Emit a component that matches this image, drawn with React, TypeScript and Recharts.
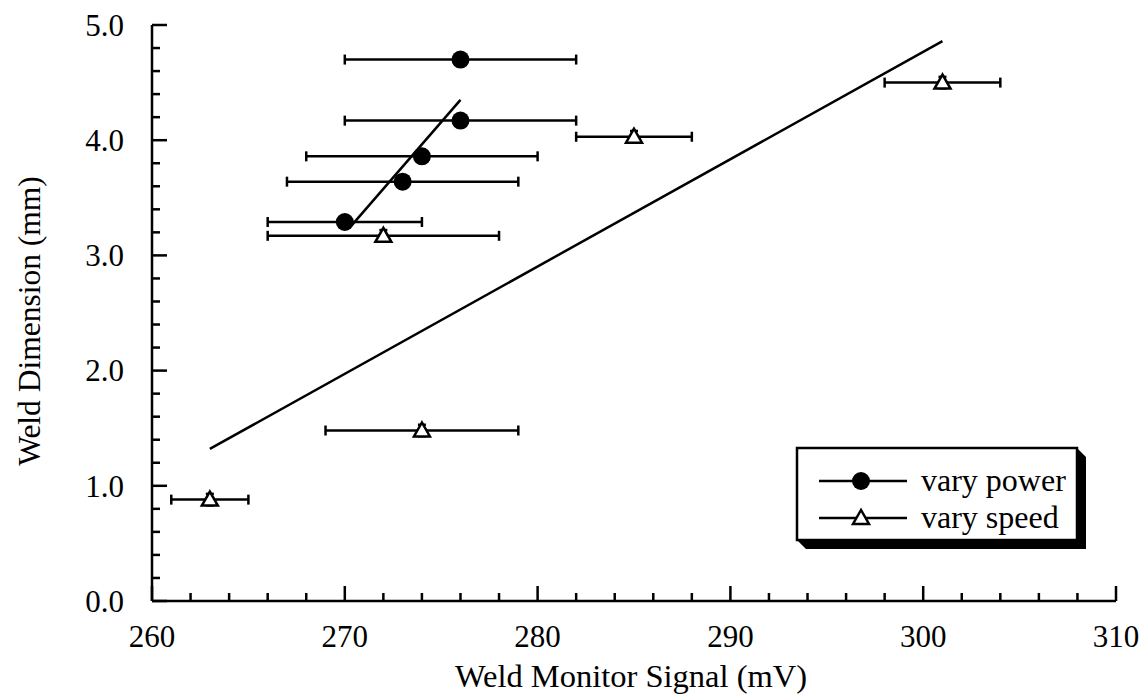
import React from 'react';
import { ScatterChart, Scatter, XAxis, YAxis, ErrorBar } from 'recharts';

// vary power (filled circles)
const powerX = [276, 276, 274, 273, 270];
const powerY = [4.7, 4.17, 3.86, 3.64, 3.29];
const powerXErr = [6, 6, 6, 6, 4];

// vary speed (open triangles)
const speedX = [263, 274, 272, 285, 301];
const speedY = [0.88, 1.48, 3.17, 4.03, 4.5];
const speedXErr = [2, 5, 6, 3, 3];
const speedYErr = [0.05, 0.05, 0.05, 0.05, 0.05];

// fitted lines
const powerFitX = [270.3, 276.0];
const powerFitY = [3.25, 4.35];
const speedFitX = [263.0, 301.0];
const speedFitY = [1.32, 4.86];

const xTicks = [260, 262, 264, 266, 268, 270, 272, 274, 276, 278, 280, 282, 284, 286, 288, 290, 292, 294, 296, 298, 300, 302, 304, 306, 308, 310];
const yTicks = [0, 0.2, 0.4, 0.6, 0.8, 1, 1.2, 1.4, 1.6, 1.8, 2, 2.2, 2.4, 2.6, 2.8, 3, 3.2, 3.4, 3.6, 3.8, 4, 4.2, 4.4, 4.6, 4.8, 5];

const powerData = powerX.map((x, i) => ({ x, y: powerY[i], xErr: powerXErr[i] }));
const speedData = speedX.map((x, i) => ({ x, y: speedY[i], xErr: speedXErr[i], yErr: speedYErr[i] }));
const powerFit = powerFitX.map((x, i) => ({ x, y: powerFitY[i] }));
const speedFit = speedFitX.map((x, i) => ({ x, y: speedFitY[i] }));

const FONT = '"Liberation Serif", "Times New Roman", serif';
const SW = 2.5;

const XTick = (props: any) => {
  const { x, y, payload } = props;
  const major = payload.value % 10 === 0;
  return (
    <g>
      <line x1={x} y1={y} x2={x} y2={y - (major ? 15 : 8)} stroke="#000" strokeWidth={SW} />
      {major && (
        <text x={x} y={y + 46} textAnchor="middle" fontFamily={FONT} fontSize={31} fill="#000">
          {payload.value}
        </text>
      )}
    </g>
  );
};

const YTick = (props: any) => {
  const { x, y, payload } = props;
  const v = payload.value;
  const major = Math.abs(v - Math.round(v)) < 1e-6;
  return (
    <g>
      <line x1={x} y1={y} x2={x + (major ? 15 : 8)} y2={y} stroke="#000" strokeWidth={SW} />
      {major && (
        <text x={x - 28} y={y} dy="0.35em" textAnchor="end" fontFamily={FONT} fontSize={31} fill="#000">
          {v.toFixed(1)}
        </text>
      )}
    </g>
  );
};

const Dot = (props: any) => <circle cx={props.cx} cy={props.cy} r={9} fill="#000" />;

const Tri = (props: any) => {
  const { cx, cy } = props;
  return (
    <polygon
      points={`${cx},${cy - 8} ${cx - 8},${cy + 6} ${cx + 8},${cy + 6}`}
      fill="#fff"
      stroke="#000"
      strokeWidth={SW}
      strokeLinejoin="miter"
    />
  );
};

const NoShape = () => <g />;

const Legend = () => (
  <svg width={1148} height={694} style={{ position: 'absolute', left: 0, top: 0, pointerEvents: 'none' }}>
    <polygon points="797,540 806,549 1086,549 1086,457 1077,448 1077,540" fill="#000" />
    <rect x={797} y={448} width={280} height={92} fill="#fff" stroke="#000" strokeWidth={SW} />
    <line x1={819} y1={481} x2={907} y2={481} stroke="#000" strokeWidth={SW} />
    <circle cx={861} cy={481} r={9} fill="#000" />
    <text x={921} y={481} dy="0.32em" fontFamily={FONT} fontSize={32} fill="#000">vary power</text>
    <line x1={819} y1={518} x2={907} y2={518} stroke="#000" strokeWidth={SW} />
    <Tri cx={861} cy={518} />
    <text x={921} y={518} dy="0.32em" fontFamily={FONT} fontSize={32} fill="#000">vary speed</text>
  </svg>
);

export default function App() {
  return (
    <div style={{ position: 'absolute', left: 0, top: 0, width: 1148, height: 694, background: '#fff' }}>
      <ScatterChart width={1148} height={694} margin={{ top: 25, right: 32, left: 0, bottom: 0 }}>
        <XAxis
          xAxisId="top"
          orientation="top"
          type="number"
          domain={[260, 310]}
          height={0}
          tick={false}
          tickLine={false}
          axisLine={{ stroke: '#000', strokeWidth: SW }}
        />
        <YAxis
          yAxisId="right"
          orientation="right"
          type="number"
          domain={[0, 5]}
          width={0}
          tick={false}
          tickLine={false}
          axisLine={{ stroke: '#000', strokeWidth: SW }}
        />
        <XAxis
          dataKey="x"
          type="number"
          domain={[260, 310]}
          ticks={xTicks}
          interval={0}
          height={93}
          tickSize={0}
          tickMargin={0}
          tick={<XTick />}
          axisLine={{ stroke: '#000', strokeWidth: SW }}
          label={{
            content: (p: any) => {
              const vb = p.viewBox;
              return (
                <text x={vb.x + vb.width / 2 - 3} y={vb.y + 86} textAnchor="middle" fontFamily={FONT} fontSize={32.5} fill="#000">
                  Weld Monitor Signal (mV)
                </text>
              );
            },
          }}
        />
        <YAxis
          dataKey="y"
          type="number"
          domain={[0, 5]}
          ticks={yTicks}
          interval={0}
          width={152}
          tickSize={0}
          tickMargin={0}
          tick={<YTick />}
          axisLine={{ stroke: '#000', strokeWidth: SW }}
          label={{
            content: (p: any) => {
              const vb = p.viewBox;
              const cx = vb.x + 40;
              const cy = vb.y + vb.height / 2 + 8;
              return (
                <text x={cx} y={cy} transform={`rotate(-90 ${cx} ${cy})`} textAnchor="middle" fontFamily={FONT} fontSize={31.5} fill="#000">
                  Weld Dimension (mm)
                </text>
              );
            },
          }}
        />
        <Scatter data={powerFit} line={{ stroke: '#000', strokeWidth: SW }} shape={<NoShape />} isAnimationActive={false} />
        <Scatter data={speedFit} line={{ stroke: '#000', strokeWidth: SW }} shape={<NoShape />} isAnimationActive={false} />
        <Scatter name="vary power" data={powerData} shape={<Dot />} isAnimationActive={false}>
          <ErrorBar dataKey="xErr" direction="x" width={5} stroke="#000" strokeWidth={SW} />
        </Scatter>
        <Scatter name="vary speed" data={speedData} shape={<Tri />} isAnimationActive={false}>
          <ErrorBar dataKey="xErr" direction="x" width={5} stroke="#000" strokeWidth={SW} />
          <ErrorBar dataKey="yErr" direction="y" width={4} stroke="#000" strokeWidth={SW} />
        </Scatter>
      </ScatterChart>
      <Legend />
    </div>
  );
}
